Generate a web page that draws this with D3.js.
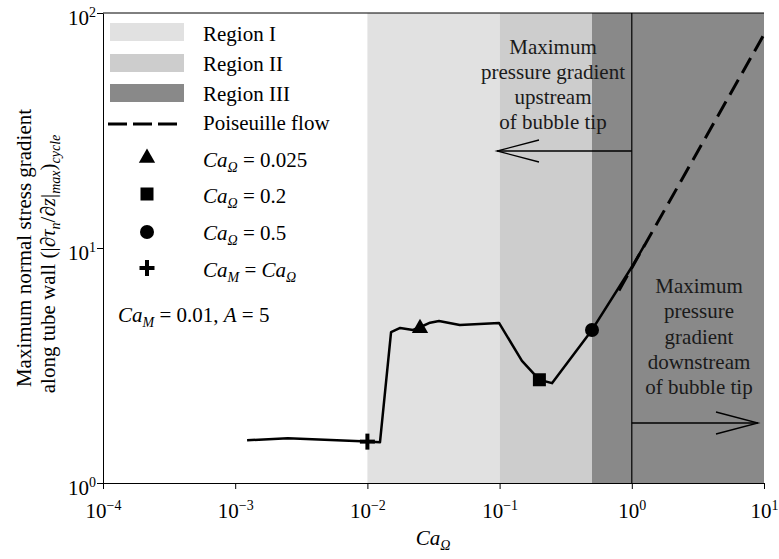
<!DOCTYPE html>
<html>
<head>
<meta charset="utf-8">
<script src="https://cdn.jsdelivr.net/npm/d3@7"></script>
<style>
  body { margin: 0; background: #fff; }
  svg text { font-family: "Liberation Serif", "Times New Roman", serif; }
  .axis path, .axis line { stroke: #000; }
</style>
</head>
<body>
<svg id="chart" width="779" height="559"></svg>
<script>
// regions (x ranges of Ca_Omega)
const regionNames = ["Region I", "Region II", "Region III"];
const regionStart = [0.01, 0.1, 0.5];
const regionEnd = [0.1, 0.5, 10];
const regionFill = ["#e1e1e1", "#cdcdcd", "#898989"];

// simulated curve
const curveCa = [0.00123, 0.0025, 0.01, 0.01245, 0.0151, 0.0177, 0.0221, 0.025, 0.0298, 0.0348, 0.05, 0.099,
                 0.1476, 0.179, 0.2, 0.249, 0.5, 1.0, 1.25];
const curveGrad = [1.52, 1.55, 1.5, 1.49, 4.39, 4.57, 4.48, 4.6, 4.81, 4.89, 4.70, 4.80,
                   3.31, 2.94, 2.75, 2.66, 4.48, 8.3, 10.3];

// Poiseuille flow
const poisCa = [0.8, 10];
const poisGrad = [6.6, 81];

// highlighted points
const markCa = [0.025, 0.2, 0.5, 0.01];
const markGrad = [4.6, 2.75, 4.48, 1.5];
const markType = ["triangle", "square", "circle", "plus"];

const xTicks = [1e-4, 1e-3, 1e-2, 1e-1, 1, 10];
const xTickExp = ["\u22124", "\u22123", "\u22122", "\u22121", "0", "1"];
const yTicks = [1, 10, 100];
const yTickExp = ["0", "1", "2"];

const FS = 21, SUB = 14;

const svg = d3.select("#chart");
const margin = {left: 103, right: 15, top: 13, bottom: 76};
const W = 779, H = 559;

const x = d3.scaleLog().domain([1e-4, 10]).range([margin.left, W - margin.right]);
const y = d3.scaleLog().domain([1, 100]).range([H - margin.bottom, margin.top]);

// shaded regions
svg.selectAll("rect.region")
  .data(regionNames)
  .enter()
  .append("rect")
  .attr("class", "region")
  .attr("x", (d, i) => x(regionStart[i]))
  .attr("y", y(100))
  .attr("width", (d, i) => x(regionEnd[i]) - x(regionStart[i]))
  .attr("height", y(1) - y(100))
  .style("fill", (d, i) => regionFill[i]);

// vertical line at Ca = 1
svg.append("line")
  .attr("x1", x(1)).attr("x2", x(1))
  .attr("y1", y(100)).attr("y2", y(1))
  .style("stroke", "#000").style("stroke-width", 1.2);

// top border
svg.append("line")
  .attr("x1", x(1e-4)).attr("x2", x(10))
  .attr("y1", y(100)).attr("y2", y(100))
  .style("stroke", "#000").style("stroke-width", 1);

// arrows
function arrow(x1, x2, yv) {
  const g = svg.append("g").style("stroke", "#000").style("stroke-width", 1.3).style("fill", "none");
  g.append("line").attr("x1", x1).attr("x2", x2).attr("y1", yv).attr("y2", yv);
  const dir = x2 > x1 ? -1 : 1;
  g.append("polyline")
    .attr("points", `${x2 + dir * 42},${yv - 11} ${x2},${yv} ${x2 + dir * 42},${yv + 11}`);
}
arrow(x(1), 497, 151);
arrow(x(1), 758, 423);

const upText = ["Maximum", "pressure gradient", "upstream", "of bubble tip"];
svg.selectAll("text.up")
  .data(upText)
  .enter()
  .append("text")
  .attr("x", 553)
  .attr("y", (d, i) => 54 + i * 25)
  .attr("text-anchor", "middle")
  .style("font-size", FS + "px")
  .style("fill", "#1a1a1a")
  .text(d => d);

const downText = ["Maximum", "pressure", "gradient", "downstream", "of bubble tip"];
svg.selectAll("text.down")
  .data(downText)
  .enter()
  .append("text")
  .attr("x", 699)
  .attr("y", (d, i) => 293 + i * 25.3)
  .attr("text-anchor", "middle")
  .style("font-size", FS + "px")
  .style("fill", "#1a1a1a")
  .text(d => d);

// Poiseuille dashed line
const line = d3.line().x(d => x(d[0])).y(d => y(d[1]));
svg.append("path")
  .datum(poisCa.map((c, i) => [c, poisGrad[i]]))
  .attr("d", line)
  .style("fill", "none")
  .style("stroke", "#000")
  .style("stroke-width", 3)
  .style("stroke-dasharray", "17,8");

// simulation curve
svg.append("path")
  .datum(curveCa.map((c, i) => [c, curveGrad[i]]))
  .attr("d", line)
  .style("fill", "none")
  .style("stroke", "#000")
  .style("stroke-width", 2.5)
  .style("stroke-linejoin", "round");

function marker(g, type) {
  if (type === "triangle") {
    g.append("path").attr("d", d3.symbol().type(d3.symbolTriangle).size(115)).attr("transform", "translate(0,1)");
  } else if (type === "square") {
    g.append("rect").attr("x", -6.5).attr("y", -6.5).attr("width", 13).attr("height", 13);
  } else if (type === "circle") {
    g.append("circle").attr("r", 7);
  } else {
    g.append("rect").attr("x", -7.5).attr("y", -2).attr("width", 15).attr("height", 4);
    g.append("rect").attr("x", -2).attr("y", -8).attr("width", 4).attr("height", 16);
  }
}

svg.selectAll("g.mark")
  .data(markType)
  .enter()
  .append("g")
  .attr("class", "mark")
  .attr("transform", (d, i) => `translate(${x(markCa[i])},${y(markGrad[i])})`)
  .style("fill", "#000")
  .each(function(d) { marker(d3.select(this), d); });

// axes
const xAxis = svg.append("g")
  .attr("class", "axis")
  .attr("transform", `translate(0,${y(1)})`)
  .call(d3.axisBottom(x).tickValues(xTicks).tickSize(6).tickSizeOuter(0).tickFormat(""));
xAxis.selectAll(".tick text")
  .each(function(d, i) {
    const t = d3.select(this).attr("dy", null).attr("y", 35)
      .style("font-family", "'Liberation Serif', serif").style("font-size", FS + "px").style("fill", "#000");
    t.append("tspan").text("10");
    t.append("tspan").attr("dy", "-8").style("font-size", SUB + "px").text(xTickExp[i]);
  });

const yAxis = svg.append("g")
  .attr("class", "axis")
  .attr("transform", `translate(${x(1e-4)},0)`)
  .call(d3.axisLeft(y).tickValues(yTicks).tickSize(6).tickSizeOuter(0).tickFormat(""));
yAxis.selectAll(".tick text")
  .each(function(d, i) {
    const t = d3.select(this).attr("x", -7).attr("dy", null).attr("y", 11)
      .style("font-family", "'Liberation Serif', serif").style("font-size", FS + "px").style("fill", "#000");
    t.append("tspan").text("10");
    t.append("tspan").attr("dy", "-8").style("font-size", SUB + "px").text(yTickExp[i]);
  });

// axis titles
const xt = svg.append("text")
  .attr("x", 433).attr("y", 545)
  .attr("text-anchor", "middle")
  .style("font-size", FS + "px");
xt.append("tspan").style("font-style", "italic").text("Ca");
xt.append("tspan").style("font-style", "italic").style("font-size", SUB + "px").attr("dy", "5").text("\u03A9");

svg.append("text")
  .attr("transform", "translate(31,248) rotate(-90)")
  .attr("text-anchor", "middle")
  .style("font-size", FS + "px")
  .text("Maximum normal stress gradient");

const yt2 = svg.append("text")
  .attr("transform", "translate(55,264) rotate(-90)")
  .attr("text-anchor", "middle")
  .style("font-size", FS + "px");
yt2.append("tspan").text("along tube wall (|\u2202");
yt2.append("tspan").style("font-style", "italic").text("\u03C4");
yt2.append("tspan").style("font-style", "italic").style("font-size", SUB + "px").attr("dy", "5").text("n");
yt2.append("tspan").attr("dy", "-5").text("/\u2202");
yt2.append("tspan").style("font-style", "italic").text("z");
yt2.append("tspan").text("|");
yt2.append("tspan").style("font-style", "italic").style("font-size", SUB + "px").attr("dy", "5").text("max");
yt2.append("tspan").attr("dy", "-5").text(")");
yt2.append("tspan").style("font-style", "italic").style("font-size", SUB + "px").attr("dy", "5").text("cycle");

// legend
const legX = 110, legTextX = 203;
const legSwatchY = [23, 54, 84];
svg.selectAll("rect.leg")
  .data(regionNames)
  .enter()
  .append("rect")
  .attr("class", "leg")
  .attr("x", legX).attr("y", (d, i) => legSwatchY[i])
  .attr("width", 74).attr("height", 18)
  .style("fill", (d, i) => regionFill[i]);

svg.selectAll("text.leg")
  .data(regionNames.concat(["Poiseuille flow"]))
  .enter()
  .append("text")
  .attr("x", legTextX)
  .attr("y", (d, i) => [41, 71, 101, 130][i])
  .style("font-size", FS + "px")
  .text(d => d);

svg.append("line")
  .attr("x1", 108).attr("x2", 178).attr("y1", 124).attr("y2", 124)
  .style("stroke", "#000").style("stroke-width", 3).style("stroke-dasharray", "19,6");

const legMarkY = [157, 194, 232, 268];
const legTextY = [167, 203, 240, 277];
svg.selectAll("g.legmark")
  .data(markType)
  .enter()
  .append("g")
  .attr("class", "legmark")
  .attr("transform", (d, i) => `translate(147,${legMarkY[i]})`)
  .style("fill", "#000")
  .each(function(d) { marker(d3.select(this), d); });

function caText(xp, yp, sub, rest) {
  const t = svg.append("text").attr("x", xp).attr("y", yp).style("font-size", FS + "px");
  t.append("tspan").style("font-style", "italic").text("Ca");
  t.append("tspan").style("font-style", "italic").style("font-size", SUB + "px").attr("dy", "5").text(sub);
  t.append("tspan").attr("dy", "-5").text(rest);
  return t;
}
const legLabels = [" = 0.025", " = 0.2", " = 0.5"];
legLabels.forEach((lab, i) => caText(legTextX, legTextY[i], "\u03A9", lab));
{
  const t = caText(legTextX, legTextY[3], "M", " = ");
  t.append("tspan").style("font-style", "italic").text("Ca");
  t.append("tspan").style("font-style", "italic").style("font-size", SUB + "px").attr("dy", "5").text("\u03A9");
}
{
  const t = caText(118, 322, "M", " = 0.01, ");
  t.append("tspan").style("font-style", "italic").text("A");
  t.append("tspan").text(" = 5");
}
</script>
</body>
</html>
